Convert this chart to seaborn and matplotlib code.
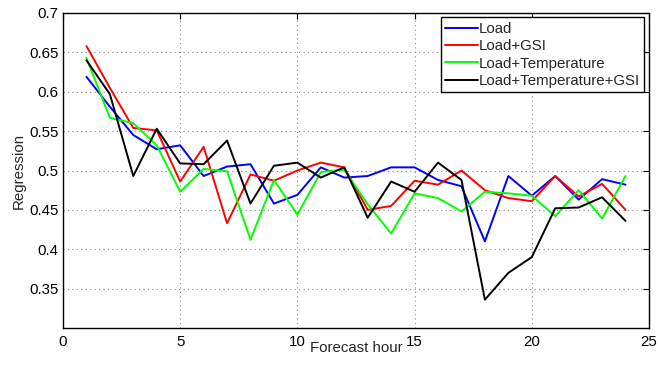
import numpy as np
import pandas as pd
import matplotlib
matplotlib.use("Agg")
import matplotlib.pyplot as plt
import seaborn as sns

hours = list(range(1, 25))

load = [0.619, 0.581, 0.545, 0.527, 0.532, 0.493, 0.505, 0.508, 0.458, 0.469,
        0.504, 0.491, 0.493, 0.504, 0.504, 0.488, 0.480, 0.410, 0.493, 0.468,
        0.493, 0.463, 0.489, 0.482]
load_gsi = [0.658, 0.605, 0.554, 0.551, 0.486, 0.530, 0.433, 0.495, 0.487, 0.500,
            0.510, 0.504, 0.450, 0.455, 0.487, 0.482, 0.500, 0.475, 0.465, 0.461,
            0.493, 0.467, 0.483, 0.450]
load_temp = [0.643, 0.567, 0.560, 0.532, 0.473, 0.502, 0.499, 0.412, 0.488, 0.444,
             0.498, 0.501, 0.457, 0.420, 0.471, 0.465, 0.448, 0.473, 0.471, 0.468,
             0.442, 0.475, 0.439, 0.493]
load_temp_gsi = [0.640, 0.597, 0.493, 0.553, 0.509, 0.508, 0.538, 0.458, 0.506, 0.510,
                 0.491, 0.504, 0.440, 0.486, 0.473, 0.510, 0.488, 0.336, 0.370, 0.390,
                 0.452, 0.453, 0.466, 0.436]

series_names = ["Load", "Load+GSI", "Load+Temperature", "Load+Temperature+GSI"]
series_values = [load, load_gsi, load_temp, load_temp_gsi]
series_colors = ["#0000ff", "#ff0000", "#00ff00", "#000000"]

x_ticks = [0, 5, 10, 15, 20, 25]
y_ticks = [0.35, 0.4, 0.45, 0.5, 0.55, 0.6, 0.65, 0.7]

frames = []
for name, vals in zip(series_names, series_values):
    frames.append(pd.DataFrame({"hour": hours, "value": vals, "model": name}))
df = pd.concat(frames, ignore_index=True)

sns.set_style("white")
plt.rcParams["font.family"] = ["Liberation Sans", "DejaVu Sans"]

FS = 10.8

fig = plt.figure(figsize=(6.58, 3.66), dpi=100)
ax = fig.add_axes([0.0957, 0.1038, 0.8906, 0.8607])

sns.lineplot(data=df, x="hour", y="value", hue="model",
             hue_order=series_names, palette=series_colors,
             linewidth=1.4, ax=ax, legend=True)

ax.set_xlim(0, 25)
ax.set_ylim(0.3, 0.7)
ax.set_xticks(x_ticks)
ax.set_yticks(y_ticks)
ax.set_xticklabels([str(t) for t in x_ticks])
ax.set_yticklabels([f"{t:g}" for t in y_ticks])
ax.tick_params(direction="in", length=4, width=0.8, labelsize=FS,
               top=True, right=True, colors="black")
ax.tick_params(axis="x", pad=5)
ax.tick_params(axis="y", pad=3)
ax.grid(True, color="#888888", linestyle=(0, (1, 3)), linewidth=0.8)
for side in ax.spines.values():
    side.set_color("black")
    side.set_linewidth(1.0)

ax.set_xlabel("Forecast hour", fontsize=FS, labelpad=-6)
ax.set_ylabel("Regression", fontsize=FS, labelpad=3)

leg = ax.legend(loc="upper right", fontsize=FS, frameon=True, fancybox=False,
                edgecolor="black", framealpha=1, handlelength=2.2,
                handletextpad=0.05, borderpad=0.3, labelspacing=0.22,
                borderaxespad=0.3)
leg.get_frame().set_linewidth(1.0)

fig.savefig("out.png", dpi=100)
